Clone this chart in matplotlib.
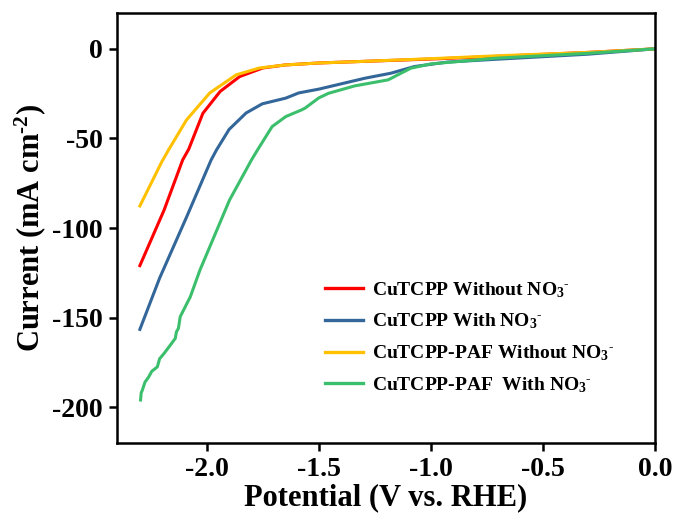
import matplotlib
matplotlib.use("Agg")
import matplotlib.pyplot as plt

plt.rcParams['font.family'] = ['Liberation Serif', 'DejaVu Serif']
plt.rcParams['font.weight'] = 'bold'
plt.rcParams['mathtext.fontset'] = 'custom'
plt.rcParams['mathtext.rm'] = 'Liberation Serif:bold'
plt.rcParams['mathtext.it'] = 'Liberation Serif:bold'
plt.rcParams['mathtext.bf'] = 'Liberation Serif:bold'

labels = ['CuTCPP Without NO$_3$$^{\\text{-}}$', 'CuTCPP With NO$_3$$^{\\text{-}}$',
          'CuTCPP-PAF Without NO$_3$$^{\\text{-}}$', 'CuTCPP-PAF  With NO$_3$$^{\\text{-}}$']
colors = ['#FF0000', '#336699', '#FFC000', '#3CBF6C']

red_x = [-2.298, -2.19, -2.107, -2.08, -2.017, -1.94, -1.853, -1.75, -1.65, -1.5, -1.3, -1.0, -0.706, -0.3, 0.0]
red_y = [-121, -90, -62, -56, -36, -23.8, -15.5, -10.7, -9.0, -7.9, -7.0, -5.7, -4.2, -2.0, 0]

blue_x = [-2.298, -2.21, -2.089, -1.98, -1.956, -1.90, -1.824, -1.752, -1.647, -1.589, -1.5,
          -1.294, -1.178, -1.074, -0.927, -0.706, -0.3, 0.0]
blue_y = [-156.6, -128, -93.7, -62, -56.4, -45, -35.8, -30.7, -27.5, -24.6, -22.5,
          -16.4, -13.6, -9.9, -7.4, -5.8, -3.0, 0]

yellow_x = [-2.298, -2.20, -2.17, -2.09, -1.986, -1.868, -1.765, -1.65, -1.5, -1.3, -1.0, -0.706, -0.3, 0.0]
yellow_y = [-87.7, -63, -56.4, -39.7, -24.6, -14.5, -10.7, -9.0, -7.9, -7.0, -5.5, -3.9, -2.0, 0]

green_x = [-2.295, -2.292, -2.287, -2.275, -2.258, -2.245, -2.22, -2.21, -2.19, -2.16, -2.14, -2.135,
           -2.126, -2.118, -2.073, -2.03, -1.898, -1.80, -1.773, -1.708, -1.647, -1.575, -1.56,
           -1.50, -1.456, -1.34, -1.19, -1.147, -1.089, -1.0, -0.706, -0.3, 0.0]
green_y = [-196, -192, -190.5, -186, -183, -180, -177.5, -173, -170, -165, -161.6, -158,
           -156, -149.5, -138.4, -123.5, -84.4, -62, -56.4, -43.4, -37.8, -34, -33,
           -27.4, -24.8, -20.7, -17.3, -14.5, -10.8, -8.4, -5.2, -2.5, 0]

series_x = [red_x, blue_x, yellow_x, green_x]
series_y = [red_y, blue_y, yellow_y, green_y]

fig = plt.figure(figsize=(6.74, 5.27), dpi=100)
L, R, T, B = 117, 655, 13, 443
W, H = 674, 527
ax = fig.add_axes([L / W, 1 - B / H, (R - L) / W, (B - T) / H])

for xs, ys, c, lab in zip(series_x, series_y, colors, labels):
    ax.plot(xs, ys, color=c, lw=2.2, label=lab)

ax.set_xlim(-2.4, 0.0)
ax.set_ylim(-220, 20)
ax.set_xticks([-2.0, -1.5, -1.0, -0.5, 0.0])
ax.set_xticklabels(['-2.0', '-1.5', '-1.0', '-0.5', '0.0'])
ax.set_yticks([0, -50, -100, -150, -200])
ax.set_yticklabels(['0', '-50', '-100', '-150', '-200'])
ax.tick_params(direction='out', length=6, width=1.8, labelsize=20, pad=4)
for lab in ax.get_xticklabels() + ax.get_yticklabels():
    lab.set_fontweight('bold')
for s in ax.spines.values():
    s.set_linewidth(1.8)

ax.set_xlabel('Potential (V vs. RHE)', fontsize=22, fontweight='bold', labelpad=1)
ax.set_ylabel('Current (mA cm$^{\\text{-2}}$)', fontsize=22, fontweight='bold', labelpad=3)

leg = ax.legend(loc='upper left', bbox_to_anchor=((325 - L) / (R - L), (B - 280) / (B - T)),
                frameon=False, borderpad=0, borderaxespad=0,
                prop={'family': 'Liberation Serif', 'weight': 'bold', 'size': 14},
                handlelength=1.95, handletextpad=0.45, labelspacing=0.62)
for h in leg.get_lines():
    h.set_linewidth(2.4)

fig.savefig('out.png', dpi=100)
